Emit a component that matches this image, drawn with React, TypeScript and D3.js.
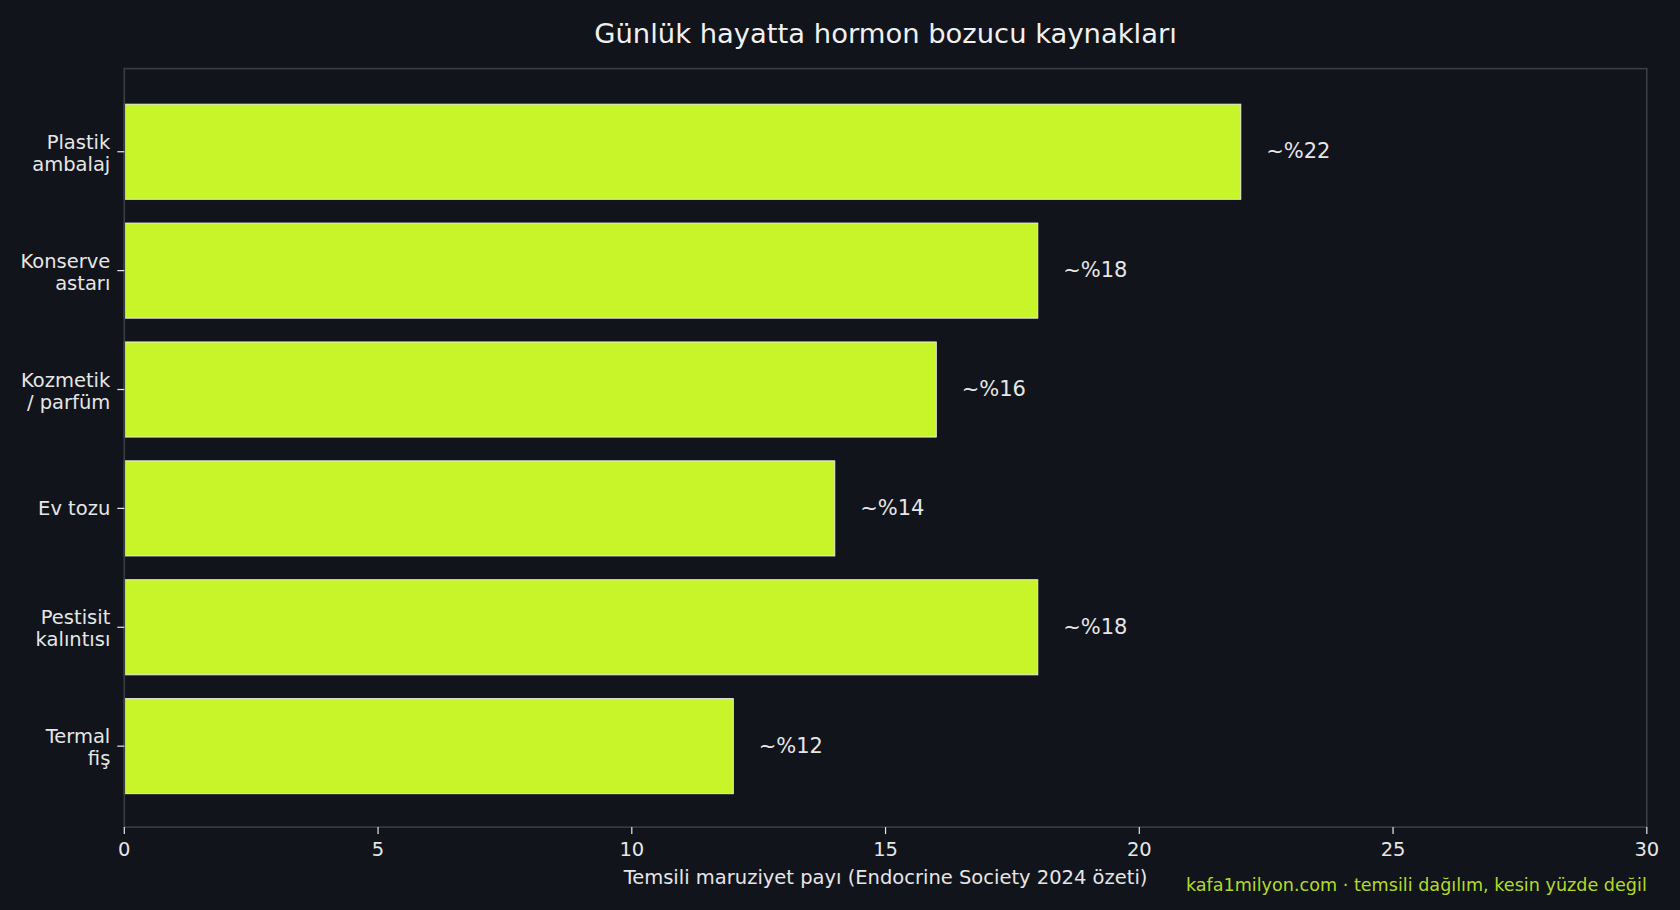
import React, { useEffect } from "react";
import * as d3 from "d3";

const categories: string[][] = [
  ["Plastik", "ambalaj"],
  ["Konserve", "astarı"],
  ["Kozmetik", "/ parfüm"],
  ["Ev tozu"],
  ["Pestisit", "kalıntısı"],
  ["Termal", "fiş"],
];
const values: number[] = [22, 18, 16, 14, 18, 12];
const valueLabels: string[] = ["~%22", "~%18", "~%16", "~%14", "~%18", "~%12"];
const xTicks: number[] = [0, 5, 10, 15, 20, 25, 30];
const title = "Günlük hayatta hormon bozucu kaynakları";
const xLabel = "Temsili maruziyet payı (Endocrine Society 2024 özeti)";
const footer = "kafa1milyon.com · temsili dağılım, kesin yüzde değil";

const W = 1680;
const H = 910;
const BG = "#11141b";
const BAR = "#c8f52a";
const TEXT = "#e6e6e6";
const SPINE = "#3a3d44";
const FONT = "'DejaVu Sans', sans-serif";

export default function App() {
  useEffect(() => {
    document.body.style.margin = "0";
    document.body.style.background = BG;
  }, []);

  const left = 124.3;
  const right = 1646.8;
  const top = 68.6;
  const bottom = 827.1;

  const x = d3.scaleLinear().domain([0, 30]).range([left, right]);
  const n = categories.length;
  const pad = (n - 1 + 0.8) * 0.05;
  const y = d3
    .scaleLinear()
    .domain([-0.4 - pad, n - 1 + 0.4 + pad])
    .range([top + 1.1, bottom + 1.1]);
  const barH = y(0.8) - y(0);

  return (
    <svg
      width={W}
      height={H}
      viewBox={`0 0 ${W} ${H}`}
      style={{ position: "absolute", left: 0, top: 0, display: "block" }}
      fontFamily={FONT}
    >
      <rect x={0} y={0} width={W} height={H} fill={BG} />
      <text x={(left + right) / 2} y={43} textAnchor="middle" fontSize={27.4} fill="#f0f0f0">
        {title}
      </text>

      {values.map((v, i) => (
        <g key={i}>
          <rect
            x={x(0)}
            y={y(i) - barH / 2}
            width={x(v) - x(0)}
            height={barH}
            fill={BAR}
            stroke="#f2f2f2"
            strokeWidth={0.9}
          />
          <text
            x={x(v + 0.5)}
            y={y(i) - 1}
            dy="0.35em"
            fontSize={21}
            fill={TEXT}
          >
            {valueLabels[i]}
          </text>
        </g>
      ))}

      {/* spines */}
      <rect
        x={left}
        y={top}
        width={right - left}
        height={bottom - top}
        fill="none"
        stroke={SPINE}
        strokeWidth={1.6}
      />

      {/* y ticks */}
      {categories.map((lines, i) => {
        const c = y(i);
        return (
          <g key={i}>
            <line x1={left - 7} x2={left} y1={c} y2={c} stroke={TEXT} strokeWidth={1.2} />
            {lines.length === 1 ? (
              <text x={left - 14} y={c} dy="0.35em" textAnchor="end" fontSize={19.5} fill={TEXT}>
                {lines[0]}
              </text>
            ) : (
              <text x={left - 14} textAnchor="end" fontSize={19.5} fill={TEXT}>
                <tspan x={left - 14} y={c - 3}>
                  {lines[0]}
                </tspan>
                <tspan x={left - 14} y={c + 19}>
                  {lines[1]}
                </tspan>
              </text>
            )}
          </g>
        );
      })}

      {/* x ticks */}
      {xTicks.map((t) => (
        <g key={t}>
          <line x1={x(t)} x2={x(t)} y1={bottom} y2={bottom + 7} stroke={TEXT} strokeWidth={1.2} />
          <text x={x(t)} y={856} textAnchor="middle" fontSize={19.5} fill={TEXT}>
            {t}
          </text>
        </g>
      ))}

      <text x={(left + right) / 2} y={884} textAnchor="middle" fontSize={19.5} fill={TEXT}>
        {xLabel}
      </text>

      <text x={right} y={891} textAnchor="end" fontSize={17.6} fill={BAR} fillOpacity={0.9}>
        {footer}
      </text>
    </svg>
  );
}
